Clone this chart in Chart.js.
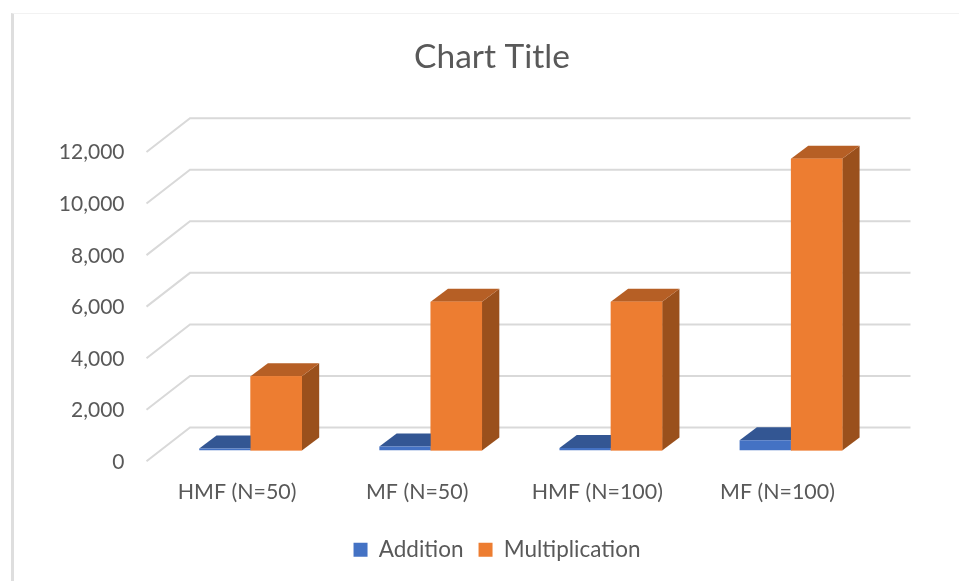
<!DOCTYPE html>
<html>
<head>
<meta charset="utf-8">
<title>Chart Title</title>
<script src="https://cdn.jsdelivr.net/npm/chart.js@4/dist/chart.umd.min.js"></script>
<style>
    html, body { margin: 0; padding: 0; background: #fff; overflow: hidden; }
    #frame { position: absolute; left: 11px; top: 13px; right: 0; bottom: 0; border-left: 3px solid #dedede; border-top: 1px solid #f2f2f2; }
    #wrap { position: absolute; left: 0; top: 0; width: 959px; height: 581px; }
</style>
</head>
<body>
<div id="frame"></div>
<div id="wrap"><canvas id="chart" width="959" height="581"></canvas></div>
<script>
const categories = ['HMF (N=50)', 'MF (N=50)', 'HMF (N=100)', 'MF (N=100)'];
const additionValues = [80, 160, 100, 400];
const multiplicationValues = [2880, 5770, 5770, 11320];
const yTicks = [0, 2000, 4000, 6000, 8000, 10000, 12000];

const backDx = 29.5, backDy = -23;    // bar plane -> back wall
const frontDx = -14, frontDy = 10.8;  // bar plane -> front of the floor
const barDx = 17.3, barDy = -13;      // thickness of a bar

const faceColors = {
    Addition: { top: '#335693', side: '#2a4a80' },
    Multiplication: { top: '#b65f25', side: '#9a501c' }
};

function poly(ctx, pts, color) {
    ctx.fillStyle = color;
    ctx.beginPath();
    pts.forEach((p, i) => i ? ctx.lineTo(p[0], p[1]) : ctx.moveTo(p[0], p[1]));
    ctx.closePath();
    ctx.fill();
}

const box3d = {
    id: 'box3d',
    // the legend sits a little right of the title in the reference
    afterLayout(chart) {
        chart.legend.left += 5;
        chart.legend.right += 5;
    },
    // gridlines on the wall and the floor side
    beforeDatasetsDraw(chart) {
        const { ctx, chartArea, scales } = chart;
        ctx.save();
        ctx.strokeStyle = '#d9d9d9';
        ctx.lineWidth = 2;
        yTicks.forEach(v => {
            const y = scales.y.getPixelForValue(v);
            ctx.beginPath();
            ctx.moveTo(chartArea.left + frontDx, y + frontDy);
            ctx.lineTo(chartArea.left + backDx, y + backDy);
            ctx.lineTo(chartArea.right + backDx, y + backDy);
            ctx.stroke();
        });
        ctx.restore();
    },
    // top and side of each bar go under its front face
    beforeDatasetDraw(chart, args) {
        const { ctx } = chart;
        const meta = chart.getDatasetMeta(args.index);
        const colors = faceColors[chart.data.datasets[args.index].label];
        meta.data.forEach(bar => {
            const l = bar.x - bar.width / 2, r = bar.x + bar.width / 2;
            poly(ctx, [[r, bar.y], [r + barDx, bar.y + barDy], [r + barDx, bar.base + barDy], [r, bar.base]], colors.side);
            poly(ctx, [[l, bar.y], [l + barDx, bar.y + barDy], [r + barDx, bar.y + barDy], [r, bar.y]], colors.top);
        });
    },
    // Chart.js paints the first dataset last, so put the orange fronts back over the blue tops
    afterDatasetDraw(chart, args) {
        if (args.index !== 0) return;
        chart.getDatasetMeta(1).data.forEach(bar => bar.draw(chart.ctx));
    }
};

new Chart(document.getElementById('chart'), {
    type: 'bar',
    data: {
        labels: categories,
        datasets: [
            { label: 'Addition', data: additionValues, backgroundColor: '#4472c4' },
            { label: 'Multiplication', data: multiplicationValues, backgroundColor: '#ed7d31' }
        ]
    },
    plugins: [box3d],
    options: {
        responsive: false,
        animation: false,
        layout: { padding: { left: 25, right: 0, top: 0, bottom: 10 } },
        font: { family: 'Lato' },
        datasets: { bar: { categoryPercentage: 0.57, barPercentage: 1 } },
        plugins: {
            title: {
                display: true,
                text: 'Chart Title',
                color: '#595959',
                font: { family: 'Lato', size: 33.5, weight: 'normal' },
                padding: { top: 37, bottom: 64 }
            },
            legend: {
                position: 'bottom',
                labels: {
                    color: '#595959',
                    font: { family: 'Lato', size: 22.5 },
                    boxWidth: 14,
                    boxHeight: 14,
                    padding: 15
                }
            },
            tooltip: { enabled: false }
        },
        scales: {
            x: {
                grid: { display: false },
                border: { display: false },
                ticks: { color: '#595959', font: { family: 'Lato', size: 21.4 }, labelOffset: -13.5, padding: 20.5, maxRotation: 0 },
                afterFit: axis => { axis.height = 73; }
            },
            y: {
                min: 0,
                max: 12000,
                grid: { display: false, drawTicks: false },
                border: { display: false },
                ticks: {
                    color: '#595959',
                    font: { family: 'Lato', size: 21 },
                    stepSize: 2000,
                    padding: 36,
                    labelOffset: 11.5,
                    callback: v => v.toLocaleString('en-US')
                },
                afterFit: axis => { axis.width = 135.5; }
            },
            // empty axis, only holds the chart area off the right edge
            spacer: {
                position: 'right',
                grid: { display: false },
                border: { display: false },
                ticks: { display: false },
                afterFit: axis => { axis.width = 78; }
            }
        }
    }
});
</script>
</body>
</html>
